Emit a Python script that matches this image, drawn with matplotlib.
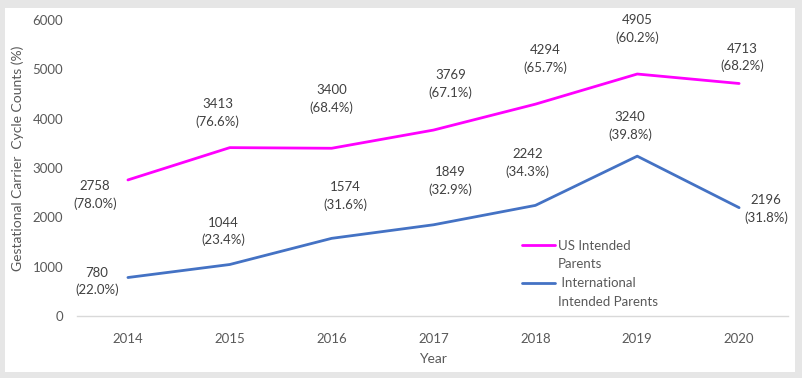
import matplotlib
matplotlib.use("Agg")
import matplotlib.pyplot as plt
from matplotlib.patches import Rectangle
from matplotlib.lines import Line2D

years = [2014, 2015, 2016, 2017, 2018, 2019, 2020]
us_counts = [2758, 3413, 3400, 3769, 4294, 4905, 4713]
us_pct = ["78.0%", "76.6%", "68.4%", "67.1%", "65.7%", "60.2%", "68.2%"]
intl_counts = [780, 1044, 1574, 1849, 2242, 3240, 2196]
intl_pct = ["22.0%", "23.4%", "31.6%", "32.9%", "34.3%", "39.8%", "31.8%"]
yticks = [0, 1000, 2000, 3000, 4000, 5000, 6000]

# label offsets in pixels (dx, dy) relative to each point
us_off = [(-33, -15), (-12, 35), (0, 49), (17, 46), (10, 45), (0, 45), (3, 26)]
intl_off = [(-31, -4), (-6, 33), (14, 42), (17, 44), (-8, 42), (-7, 30), (27, -1)]

plt.rcParams['font.family'] = ['Lato', 'DejaVu Sans']
txt = '#595959'

fig = plt.figure(figsize=(8.02, 3.78), dpi=100)
fig.patch.set_facecolor('#e6e6e6')
fig.patches.append(Rectangle((5/802, 1-372/378), 790/802, 364/378,
                             transform=fig.transFigure, facecolor='white',
                             edgecolor='none', zorder=-10))
ax = fig.add_axes([77/802, 1-316/378, 711/802, 296/378])
ax.set_facecolor('none')
ax.set_zorder(5)

l1, = ax.plot(years, us_counts, color='#ff00ff', lw=2.0, solid_capstyle='round')
l2, = ax.plot(years, intl_counts, color='#4472c4', lw=2.0, solid_capstyle='round')

for x, y, p, o in zip(years, us_counts, us_pct, us_off):
    ax.annotate(f"{y}\n({p})", (x, y), xytext=o, textcoords='offset pixels',
                ha='center', va='center', fontsize=9.5, color='#404040',
                linespacing=1.5)
for x, y, p, o in zip(years, intl_counts, intl_pct, intl_off):
    ax.annotate(f"{y}\n({p})", (x, y), xytext=o, textcoords='offset pixels',
                ha='center', va='center', fontsize=9.5, color='#404040',
                linespacing=1.5)

ax.set_xlim(2013.5, 2020.48)
ax.set_ylim(0, 6000)
ax.set_yticks(yticks)
ax.set_xticks(years)
ax.tick_params(axis='both', length=0, labelsize=9.5, labelcolor=txt)
ax.tick_params(axis='y', pad=10)
ax.tick_params(axis='x', pad=12)
for s in ['top', 'right', 'left']:
    ax.spines[s].set_visible(False)
ax.spines['bottom'].set_color('#d9d9d9')
ax.spines['bottom'].set_linewidth(1)

ax.set_xlabel('Year', fontsize=10, color=txt, labelpad=6)
fig.text(18/802, 1-158/378, 'Gestational Carrier  Cycle Counts (%)', rotation=90,
         ha='center', va='center', fontsize=10, color=txt, zorder=6)

blank = Line2D([], [], color='none')
leg = ax.legend([l1, blank, l2, blank],
                ['US Intended', 'Parents', ' International', 'Intended Parents'],
                loc='upper left', bbox_to_anchor=(0.626, 0.258), frameon=False,
                fontsize=9.5, labelcolor=txt, handlelength=2.5, handletextpad=0.2,
                labelspacing=0.52, borderaxespad=0, borderpad=0)

fig.savefig('out.png', dpi=100, facecolor=fig.get_facecolor())
